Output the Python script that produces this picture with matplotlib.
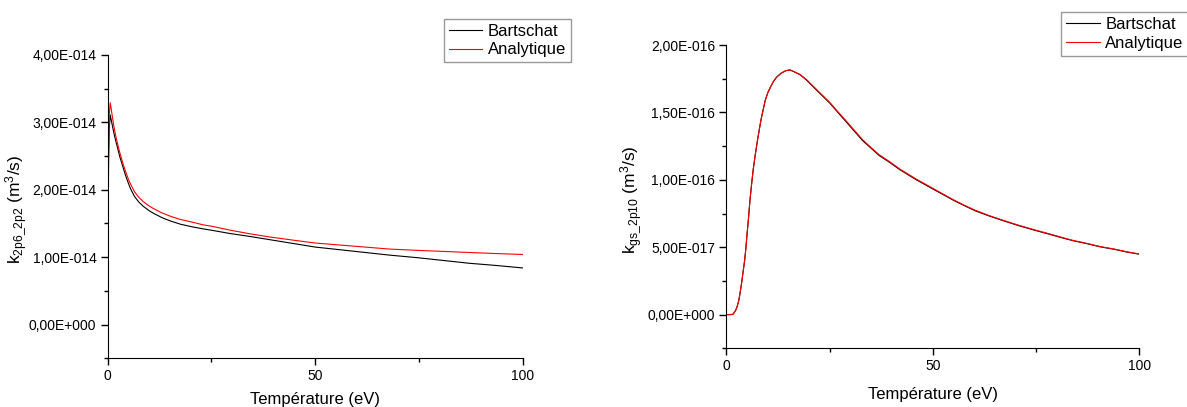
import matplotlib
matplotlib.use('Agg')
import matplotlib.pyplot as plt
from matplotlib.ticker import MultipleLocator, FuncFormatter

plt.rcParams['font.family'] = ['Liberation Sans', 'DejaVu Sans']
plt.rcParams['mathtext.default'] = 'regular'

# left panel: k_2p6_2p2 (units of 1e-14 m^3/s)
t_left = [0, 0.1, 0.25, 0.4, 0.65, 1.0, 1.5, 2.0, 2.5, 3.0, 3.7, 4.3, 5, 5.5,
          6.5, 7.5, 8.5, 10, 11.1, 13, 15, 17.5, 20.4, 23, 25, 29.6, 34, 39,
          45, 50, 56, 62, 68, 75, 81, 87, 93, 100]
bart_left = [0, 1.2, 2.4, 2.9, 3.11, 3.0, 2.85, 2.72, 2.6, 2.48, 2.34, 2.22,
             2.1, 2.02, 1.90, 1.82, 1.76, 1.69, 1.65, 1.59, 1.54, 1.49, 1.45,
             1.42, 1.40, 1.35, 1.31, 1.26, 1.20, 1.15, 1.11, 1.07, 1.03, 0.99,
             0.95, 0.91, 0.88, 0.84]
ana_left = [0, 1.2, 2.6, 3.1, 3.29, 3.15, 2.95, 2.79, 2.66, 2.54, 2.39, 2.28,
            2.16, 2.09, 1.97, 1.89, 1.83, 1.76, 1.72, 1.66, 1.61, 1.56, 1.52,
            1.48, 1.46, 1.40, 1.35, 1.30, 1.25, 1.21, 1.18, 1.15, 1.12, 1.10,
            1.085, 1.07, 1.055, 1.04]

# right panel: k_gs_2p10 (units of 1e-16 m^3/s)
t_right = [0, 1, 1.6, 2.2, 2.6, 3.0, 3.3, 3.7, 4.0, 4.4, 4.7, 5, 5.3, 5.7,
           6.1, 6.5, 7.0, 7.5, 8.0, 8.4, 8.9, 9.4, 10.0, 10.7, 11.4, 12.1,
           13.2, 14.4, 15.4, 16.5, 17.8, 19.4, 20.7, 22, 23.5, 25, 27, 29, 31,
           33, 35, 37, 39.5, 42, 46, 50, 52.5, 55, 57.5, 60.2, 63.5, 67, 71,
           75, 78, 81, 84, 87.5, 90.5, 94, 97, 100]
bart_right = [0, 0, 0.003, 0.03, 0.06, 0.106, 0.16, 0.24, 0.31, 0.40, 0.49,
              0.60, 0.70, 0.85, 0.97, 1.08, 1.19, 1.29, 1.38, 1.45, 1.52, 1.59,
              1.645, 1.69, 1.73, 1.76, 1.79, 1.81, 1.815, 1.80, 1.78, 1.74,
              1.70, 1.66, 1.615, 1.57, 1.50, 1.43, 1.36, 1.29, 1.235, 1.18,
              1.13, 1.075, 1.00, 0.932, 0.89, 0.848, 0.81, 0.771, 0.733, 0.697,
              0.658, 0.623, 0.598, 0.572, 0.548, 0.525, 0.503, 0.484, 0.464,
              0.448]
ana_right = [0, 0, 0.003, 0.03, 0.06, 0.106, 0.16, 0.24, 0.31, 0.40, 0.49,
             0.60, 0.70, 0.85, 0.97, 1.08, 1.19, 1.29, 1.38, 1.45, 1.52, 1.59,
             1.645, 1.69, 1.73, 1.76, 1.79, 1.81, 1.815, 1.80, 1.782, 1.743,
             1.704, 1.665, 1.62, 1.575, 1.505, 1.437, 1.367, 1.297, 1.24,
             1.186, 1.135, 1.08, 1.005, 0.937, 0.894, 0.852, 0.813, 0.775,
             0.736, 0.70, 0.661, 0.626, 0.601, 0.575, 0.55, 0.527, 0.505,
             0.486, 0.466, 0.45]


def origin_fmt(v, pos):
    if abs(v) < 1e-30:
        return '0,00E+000'
    s = '%.2E' % v
    mant, exp = s.split('E')
    e = int(exp)
    sign = '-' if e < 0 else '+'
    return mant.replace('.', ',') + 'E' + sign + '%03d' % abs(e)


def style_axes(ax, ylabel, ymin, ymax, ystep):
    ax.spines['top'].set_visible(False)
    ax.spines['right'].set_visible(False)
    ax.set_xlim(0, 100)
    ax.set_ylim(ymin, ymax)
    ax.xaxis.set_major_locator(MultipleLocator(50))
    ax.xaxis.set_minor_locator(MultipleLocator(25))
    ax.yaxis.set_major_locator(MultipleLocator(ystep))
    ax.yaxis.set_minor_locator(MultipleLocator(ystep / 2))
    ax.yaxis.set_major_formatter(FuncFormatter(origin_fmt))
    ax.yaxis.get_offset_text().set_visible(False)
    ax.tick_params(which='major', length=5, width=1, labelsize=10, pad=3)
    ax.tick_params(which='minor', length=3, width=1)
    ax.set_xlabel('Température (eV)', fontsize=12)
    ax.set_ylabel(ylabel, fontsize=12.5)


fig = plt.figure(figsize=(11.87, 4.07), dpi=100)

ax1 = fig.add_axes([0.0906, 0.1197, 0.350, 0.7452])
ax1.plot(t_left, [v * 1e-14 for v in bart_left], color='black', lw=0.8, label='Bartschat')
ax1.plot(t_left, [v * 1e-14 for v in ana_left], color='red', lw=0.8, label='Analytique')
style_axes(ax1, r'k$_{2p6\_2p2}$ (m$^3$/s)', -0.5e-14, 4e-14, 1e-14)
ax1.yaxis.set_label_coords(-0.19, 0.49)
ax1.xaxis.set_label_coords(0.5, -0.112)
ax1.legend(loc='upper left', bbox_to_anchor=(0.374, 0.953), bbox_transform=fig.transFigure,
           fancybox=False, edgecolor='#808080', fontsize=12, handlelength=2.0,
           handletextpad=0.35, labelspacing=0.2, borderaxespad=0, borderpad=0.3)

ax2 = fig.add_axes([0.612, 0.1442, 0.3478, 0.7452])
ax2.plot(t_right, [v * 1e-16 for v in bart_right], color='black', lw=0.8, label='Bartschat')
ax2.plot(t_right, [v * 1e-16 for v in ana_right], color='red', lw=0.8, label='Analytique')
style_axes(ax2, r'k$_{gs\_2p10}$ (m$^3$/s)', -0.25e-16, 2e-16, 0.5e-16)
ax2.yaxis.set_label_coords(-0.2, 0.49)
ax2.xaxis.set_label_coords(0.5, -0.128)
ax2.legend(loc='upper left', bbox_to_anchor=(0.894, 0.970), bbox_transform=fig.transFigure,
           fancybox=False, edgecolor='#808080', fontsize=12, handlelength=2.0,
           handletextpad=0.35, labelspacing=0.2, borderaxespad=0, borderpad=0.3)

fig.savefig('out.png', dpi=100)
